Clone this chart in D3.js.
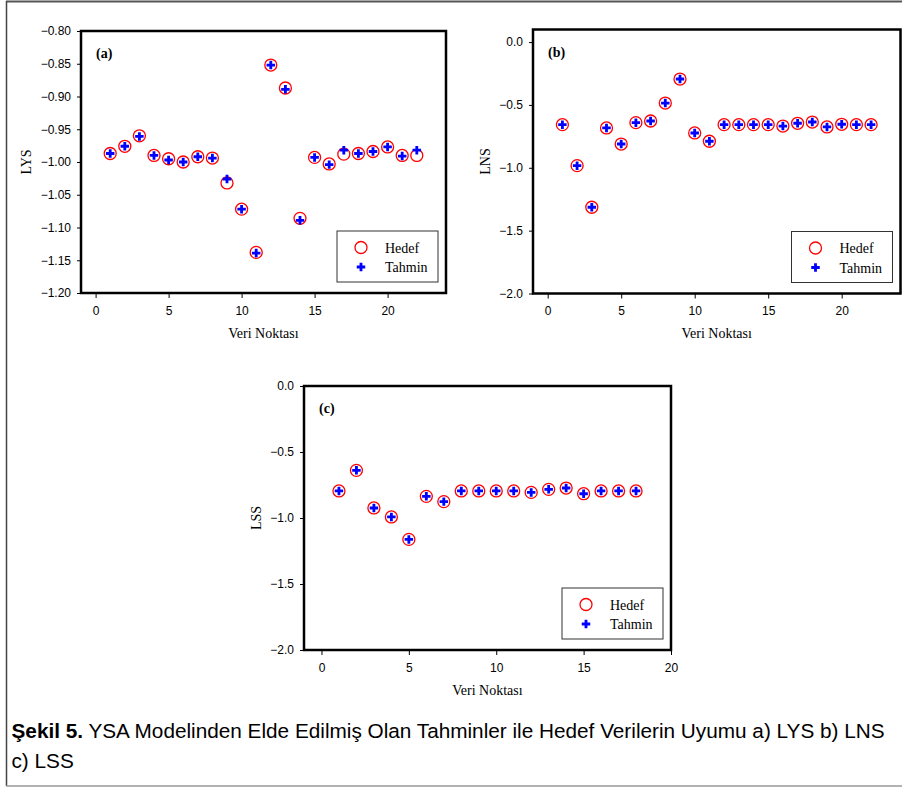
<!DOCTYPE html>
<html>
<head>
<meta charset="utf-8">
<script src="https://cdn.jsdelivr.net/npm/d3@7"></script>
<style>
  body { margin: 0; background: #fff; }
  svg { display: block; }
</style>
</head>
<body>
<svg id="chart" width="902" height="787"></svg>
<script>
// data
const pointsAB = d3.range(1, 23);
const pointsC = d3.range(1, 19);

const lysHedef = [-0.987, -0.976, -0.960, -0.990, -0.995, -1.000, -0.992, -0.994, -1.032, -1.072, -1.138,
  -0.852, -0.887, -1.086, -0.993, -1.003, -0.988, -0.987, -0.984, -0.977, -0.990, -0.990];
const lysTahmin = [-0.987, -0.976, -0.961, -0.990, -0.997, -1.000, -0.992, -0.994, -1.026, -1.072, -1.139,
  -0.852, -0.889, -1.089, -0.993, -1.004, -0.982, -0.987, -0.984, -0.977, -0.991, -0.982];

const lnsHedef = [-0.657, -0.983, -1.314, -0.683, -0.811, -0.641, -0.628, -0.485, -0.294, -0.723, -0.789,
  -0.657, -0.657, -0.657, -0.657, -0.668, -0.646, -0.636, -0.675, -0.654, -0.657, -0.657];
const lnsTahmin = [-0.657, -0.983, -1.314, -0.683, -0.811, -0.641, -0.628, -0.485, -0.294, -0.723, -0.789,
  -0.657, -0.657, -0.657, -0.657, -0.668, -0.646, -0.636, -0.675, -0.654, -0.657, -0.657];

const lssHedef = [-0.795, -0.639, -0.924, -0.992, -1.162, -0.836, -0.876, -0.795, -0.795, -0.795, -0.795,
  -0.806, -0.783, -0.773, -0.816, -0.795, -0.795, -0.795];
const lssTahmin = [-0.795, -0.639, -0.924, -0.992, -1.162, -0.836, -0.876, -0.795, -0.795, -0.795, -0.795,
  -0.806, -0.783, -0.773, -0.816, -0.795, -0.795, -0.795];

const xTicksAB = [0, 5, 10, 15, 20];
const xTicksC = [0, 5, 10, 15, 20];
const yTicksA = [-1.20, -1.15, -1.10, -1.05, -1.00, -0.95, -0.90, -0.85, -0.80];
const yTicksBC = [-2.0, -1.5, -1.0, -0.5, 0.0];
const legendLabels = ['Hedef', 'Tahmin'];
const captionBold = 'Şekil 5.';
const captionLine1 = ' YSA Modelinden Elde Edilmiş Olan Tahminler ile Hedef Verilerin Uyumu a) LYS b) LNS';
const captionLine2 = 'c) LSS';

const serif = '"Liberation Serif", "Times New Roman", serif';
const sans = '"Liberation Sans", Arial, sans-serif';

const svg = d3.select('#chart');

// outer figure border
svg.append('line').attr('x1', 6).attr('x2', 902).attr('y1', 1.5).attr('y2', 1.5)
    .attr('stroke', '#555').attr('stroke-width', 2);
svg.append('line').attr('x1', 6.5).attr('x2', 6.5).attr('y1', 1).attr('y2', 786)
    .attr('stroke', '#444').attr('stroke-width', 1.5);
svg.append('line').attr('x1', 6).attr('x2', 902).attr('y1', 786).attr('y2', 786)
    .attr('stroke', '#999').attr('stroke-width', 1.5);

function panel(cfg) {
    const {x0, x1, y0, y1} = cfg.box;
    const x = d3.scaleLinear().domain(cfg.xDomain).range([x0, x1]);
    const y = d3.scaleLinear().domain(cfg.yDomain).range([y1, y0]);
    const g = svg.append('g');

    const yAxis = d3.axisLeft(y).tickValues(cfg.yTicks).tickFormat(d3.format(cfg.yFormat))
        .tickSize(4).tickPadding(6);
    const ya = g.append('g').attr('transform', `translate(${x0},0)`).call(yAxis);
    const xAxis = d3.axisBottom(x).tickValues(cfg.xTicks).tickSize(5).tickPadding(8);
    const xa = g.append('g').attr('transform', `translate(0,${y1})`).call(xAxis);
    [ya, xa].forEach(a => {
        a.select('.domain').remove();
        a.selectAll('text').attr('font-family', sans).attr('font-size', 12).attr('fill', '#000');
        a.selectAll('line').attr('stroke', '#000');
    });

    // frame
    g.append('rect').attr('x', x0).attr('y', y0).attr('width', x1 - x0).attr('height', y1 - y0)
        .attr('fill', 'none').attr('stroke', '#000').attr('stroke-width', 2.5);

    g.append('text').attr('x', x0 + 15).attr('y', y0 + 27)
        .attr('font-family', serif).attr('font-weight', 'bold').attr('font-size', 14)
        .text(cfg.tag);

    g.append('text').attr('transform', `translate(${cfg.yTitleX},${(y0 + y1) / 2}) rotate(-90)`)
        .attr('text-anchor', 'middle').attr('font-family', serif).attr('font-size', 14)
        .text(cfg.yTitle);
    g.append('text').attr('x', (x0 + x1) / 2).attr('y', cfg.xTitleY)
        .attr('text-anchor', 'middle').attr('font-family', serif).attr('font-size', 14)
        .text('Veri Noktası');

    g.append('g').selectAll('circle').data(cfg.hedef).join('circle')
        .attr('cx', (d, i) => x(cfg.points[i])).attr('cy', d => y(d)).attr('r', 6)
        .attr('fill', 'none').attr('stroke', '#ff0000').attr('stroke-width', 1.3);

    const plus = d3.symbol().type(d3.symbolCross).size(40);
    g.append('g').selectAll('path').data(cfg.tahmin).join('path')
        .attr('transform', (d, i) => `translate(${x(cfg.points[i])},${y(d)})`)
        .attr('d', plus).attr('fill', '#0000ff');

    // legend
    const lx = x1 - 109, ly = y1 - 62;
    const lg = g.append('g').attr('transform', `translate(${lx},${ly})`);
    lg.append('rect').attr('width', 101).attr('height', 51)
        .attr('fill', '#fff').attr('stroke', '#333').attr('stroke-width', 1);
    lg.append('circle').attr('cx', 24).attr('cy', 16.5).attr('r', 6)
        .attr('fill', 'none').attr('stroke', '#ff0000').attr('stroke-width', 1.3);
    lg.append('path').attr('transform', 'translate(24,36)').attr('d', plus).attr('fill', '#0000ff');
    lg.selectAll('text.lab').data(legendLabels).join('text')
        .attr('x', 48).attr('y', (d, i) => 21.5 + i * 19.5)
        .attr('font-family', serif).attr('font-size', 14).text(d => d);
}

panel({
    box: {x0: 81, x1: 446, y0: 31, y1: 293},
    xDomain: [-1, 24], yDomain: [-1.2, -0.8],
    xTicks: xTicksAB, yTicks: yTicksA, yFormat: '.2f',
    points: pointsAB, hedef: lysHedef, tahmin: lysTahmin,
    tag: '(a)', yTitle: 'LYS', yTitleX: 31, xTitleY: 338
});
panel({
    box: {x0: 533, x1: 900.5, y0: 29.5, y1: 293.5},
    xDomain: [-1, 24], yDomain: [-2, 0.1],
    xTicks: xTicksAB, yTicks: yTicksBC, yFormat: '.1f',
    points: pointsAB, hedef: lnsHedef, tahmin: lnsTahmin,
    tag: '(b)', yTitle: 'LNS', yTitleX: 490, xTitleY: 338
});
panel({
    box: {x0: 304, x1: 671, y0: 386, y1: 650},
    xDomain: [-1, 20], yDomain: [-2, 0],
    xTicks: xTicksC, yTicks: yTicksBC, yFormat: '.1f',
    points: pointsC, hedef: lssHedef, tahmin: lssTahmin,
    tag: '(c)', yTitle: 'LSS', yTitleX: 261, xTitleY: 695
});

// caption: condensed look, fitted to the reference line width
const cap = svg.append('g');
const t1 = cap.append('text').attr('x', 0).attr('y', 738)
    .attr('font-family', sans).attr('font-size', 19.5).attr('fill', '#000');
t1.append('tspan').attr('font-weight', 'bold').text(captionBold);
t1.append('tspan').text(captionLine1);
cap.append('text').attr('x', 0).attr('y', 768)
    .attr('font-family', sans).attr('font-size', 19.5).attr('fill', '#000').text(captionLine2);
const w = t1.node().getComputedTextLength();
const sx = 874 / w;
cap.attr('transform', `translate(11.5,0) scale(${sx},1)`);
</script>
</body>
</html>
